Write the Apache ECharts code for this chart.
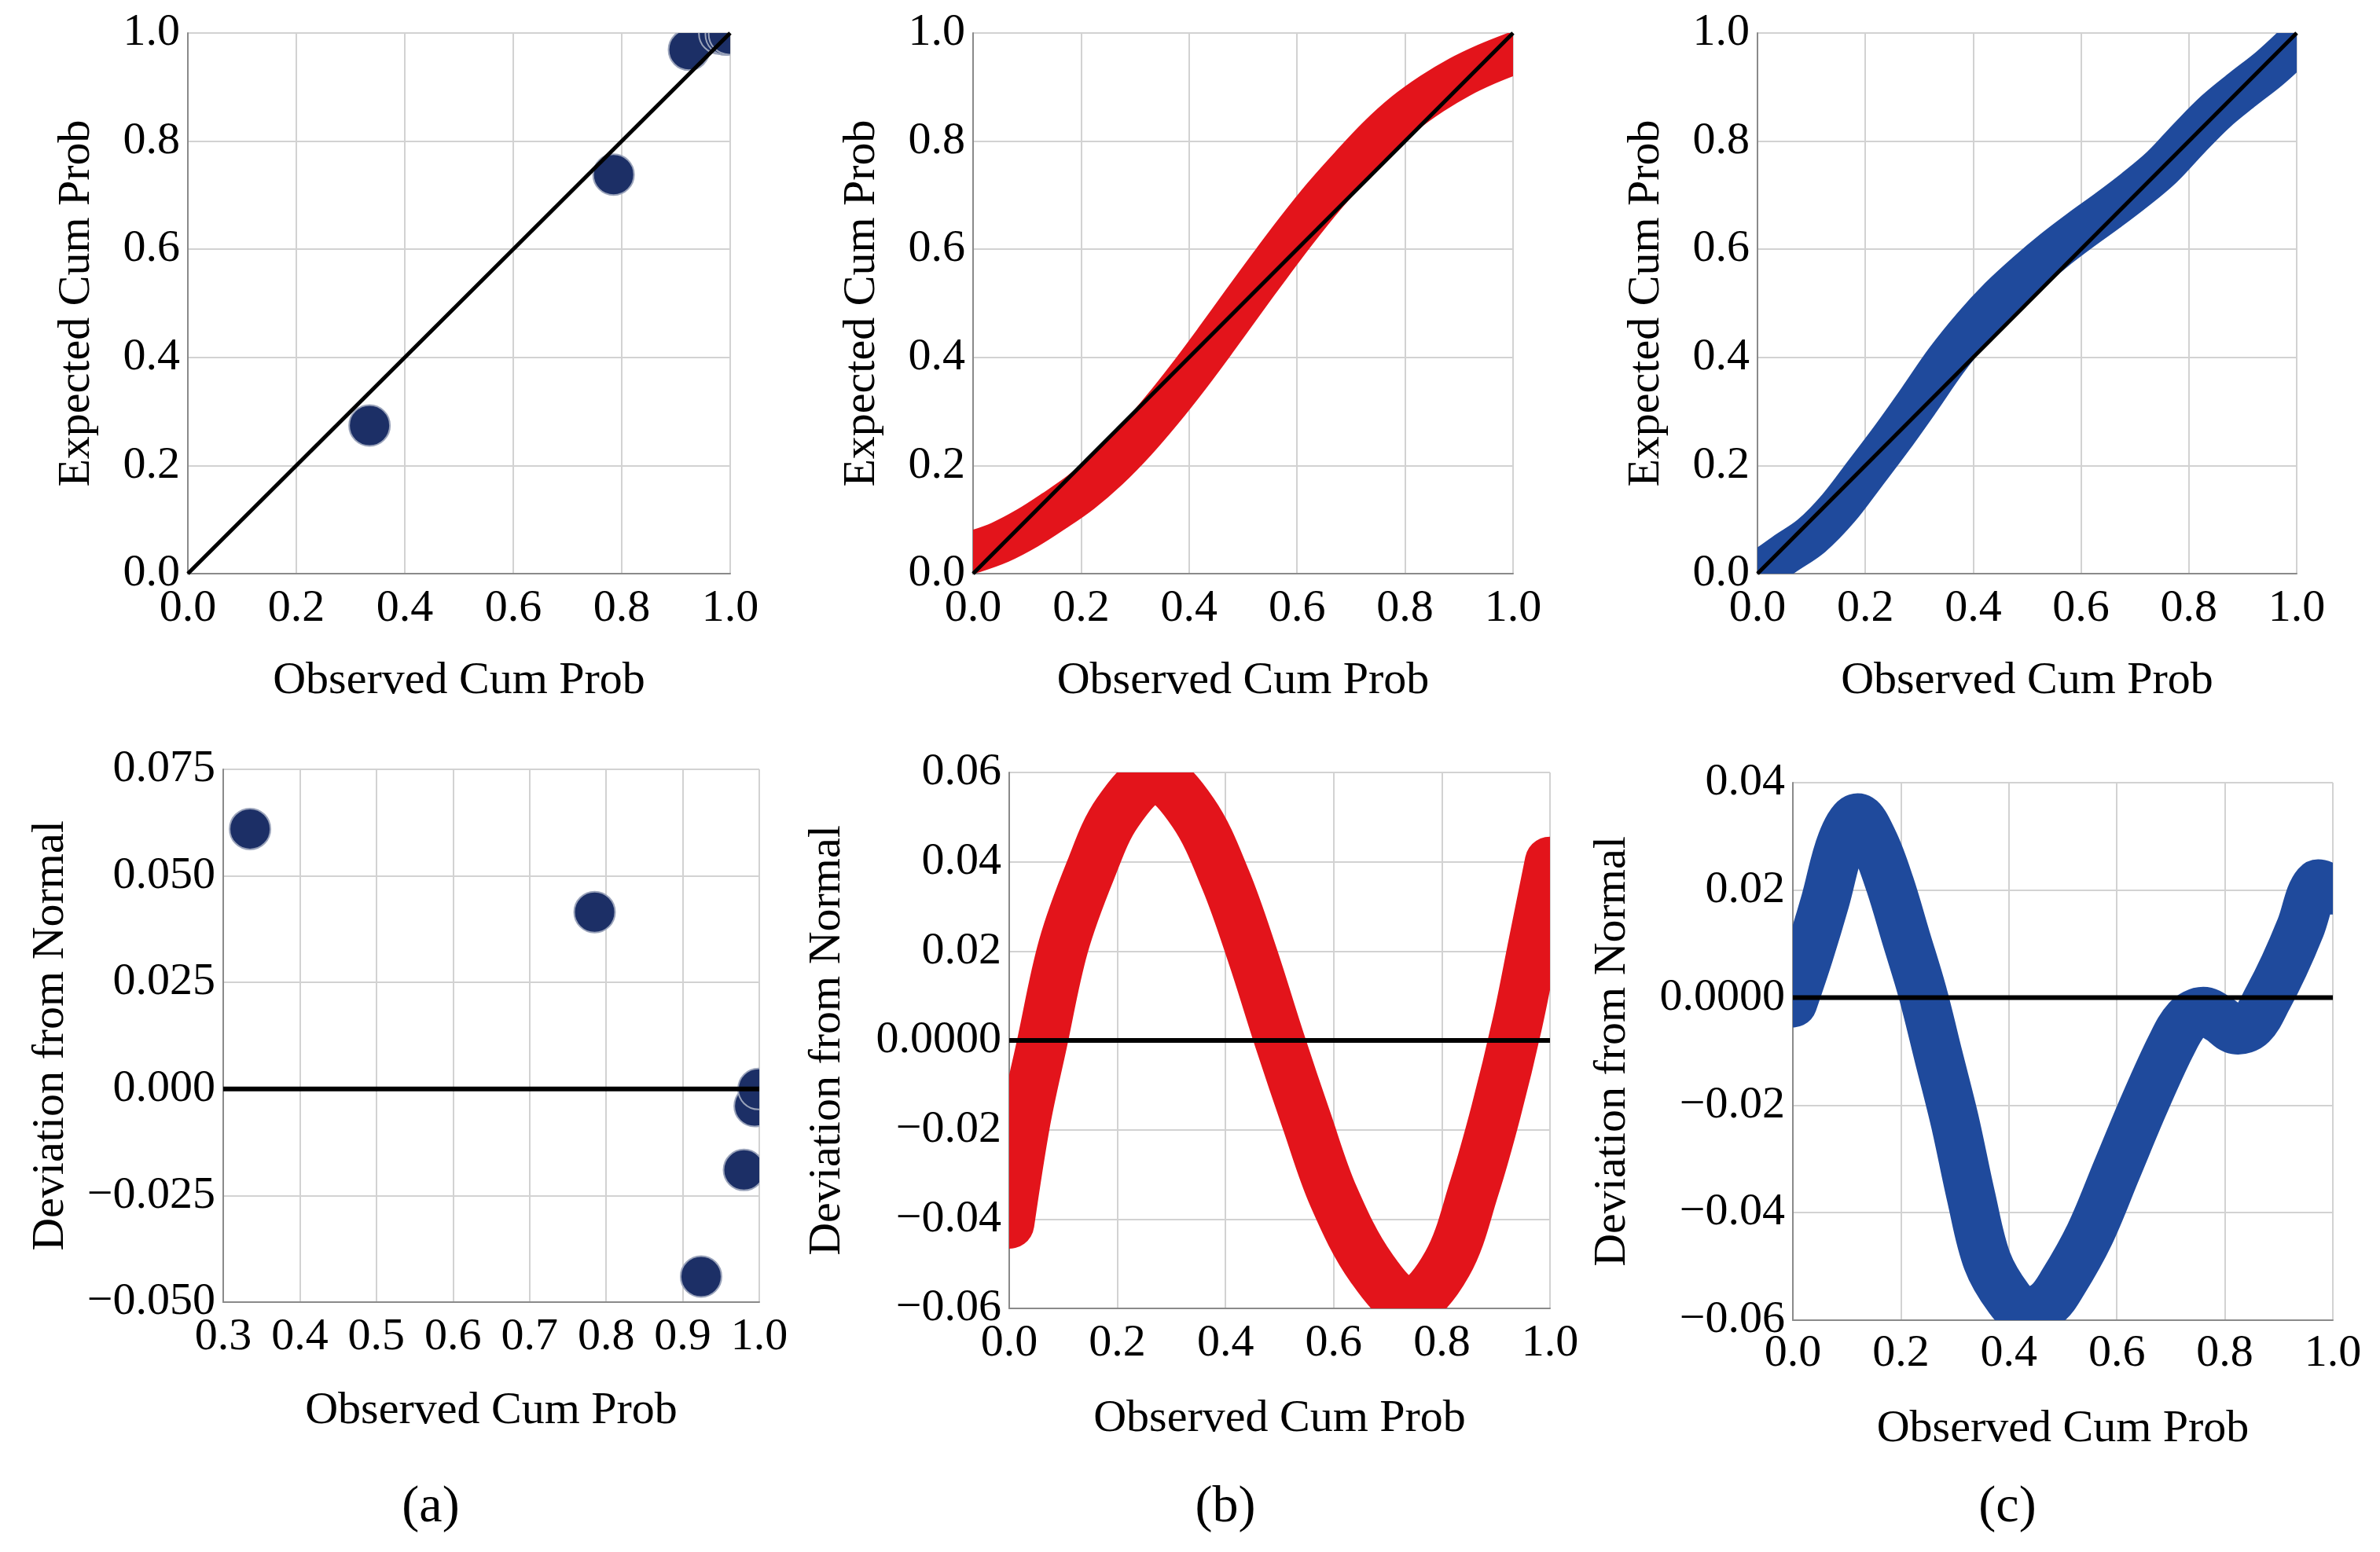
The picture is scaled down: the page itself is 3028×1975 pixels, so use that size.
<!DOCTYPE html>
<html>
<head>
<meta charset="utf-8">
<script src="https://cdn.jsdelivr.net/npm/echarts@6/dist/echarts.min.js"></script>
<style>
  html, body { margin: 0; padding: 0; background: #fff; }
  #chart { width: 3028px; height: 1975px; }
</style>
</head>
<body>
<div id="chart"></div>
<script>
// P-P plots (top) and detrended P-P plots (bottom)

// (a) few observations
const obsA = [0.335, 0.785, 0.924, 0.98, 0.992, 0.998];
const expA = [0.274, 0.738, 0.969, 0.999, 0.997, 0.998];
const devObsA = [0.335, 0.785, 0.924, 0.98, 0.994, 0.999];
const devA = [0.061, 0.0415, -0.044, -0.019, -0.004, 0.0];

// (b) red band
const obsB = [0, 0.05, 0.1, 0.15, 0.2, 0.25, 0.3, 0.35, 0.4, 0.45, 0.5, 0.55, 0.6, 0.65, 0.7, 0.75, 0.8, 0.85, 0.9, 0.95, 1.0];
const expB = [0.04, 0.058, 0.084, 0.116, 0.151, 0.194, 0.245, 0.303, 0.366, 0.433, 0.502, 0.57, 0.636, 0.698, 0.754, 0.807, 0.852, 0.888, 0.918, 0.942, 0.962];
const devObsB = [0, 0.03, 0.06, 0.1, 0.15, 0.2, 0.27, 0.34, 0.4, 0.45, 0.5, 0.55, 0.6, 0.67, 0.74, 0.81, 0.86, 0.9, 0.94, 0.97, 1.0];
const devB = [-0.041, -0.018, -0.001, 0.021, 0.038, 0.051, 0.0588, 0.051, 0.036, 0.019, 0.0, -0.018, -0.035, -0.051, -0.0588, -0.05, -0.033, -0.016, 0.004, 0.022, 0.040];

// (c) blue band
const obsC = [0, 0.05, 0.1, 0.15, 0.2, 0.25, 0.3, 0.35, 0.4, 0.45, 0.5, 0.55, 0.6, 0.65, 0.7, 0.75, 0.8, 0.85, 0.9, 0.95, 1.0];
const expC = [0.0, 0.036, 0.07, 0.121, 0.186, 0.252, 0.322, 0.394, 0.456, 0.51, 0.556, 0.598, 0.636, 0.672, 0.71, 0.752, 0.805, 0.855, 0.896, 0.935, 0.981];
const devObsC = [0, 0.03, 0.06, 0.09, 0.12, 0.15, 0.18, 0.21, 0.24, 0.27, 0.3, 0.33, 0.36, 0.4, 0.43, 0.47, 0.5, 0.55, 0.6, 0.65, 0.7, 0.73, 0.76, 0.79, 0.82, 0.85, 0.88, 0.91, 0.94, 0.97, 1.0];
const devC = [-0.001, 0.008, 0.018, 0.029, 0.0335, 0.029, 0.021, 0.011, 0.001, -0.011, -0.023, -0.037, -0.049, -0.056, -0.0585, -0.057, -0.053, -0.044, -0.032, -0.020, -0.009, -0.004, -0.0025, -0.004, -0.006, -0.005, 0.000, 0.006, 0.013, 0.021, 0.020];

// tick labels
const probTicks = ['0.0', '0.2', '0.4', '0.6', '0.8', '1.0'];
const obsTicksA = ['0.3', '0.4', '0.5', '0.6', '0.7', '0.8', '0.9', '1.0'];
const devTicksA = ['\u22120.050', '\u22120.025', '0.000', '0.025', '0.050', '0.075'];
const devTicksB = ['\u22120.06', '\u22120.04', '\u22120.02', '0.0000', '0.02', '0.04', '0.06'];
const devTicksC = ['\u22120.06', '\u22120.04', '\u22120.02', '0.0000', '0.02', '0.04'];
const panelNames = ['(a)', '(b)', '(c)'];

const FONT = "'Liberation Serif', 'Times New Roman', serif";
const NAVY = '#1c2f66';
const RED = '#e3141b';
const BLUE = '#1f4a9c';

const chart = echarts.init(document.getElementById('chart'), null, { renderer: 'canvas' });

function zip(xs, ys) {
  return xs.map((x, i) => [x, ys[i]]);
}

function xAx(grid, min, max, interval, labels, nameGap, margin) {
  return {
    type: 'value', gridIndex: grid, min: min, max: max, interval: interval,
    name: 'Observed Cum Prob', nameLocation: 'middle', nameGap: nameGap,
    nameTextStyle: { fontFamily: FONT, fontSize: 58, color: '#000' },
    axisLine: { show: true, onZero: false, lineStyle: { color: '#8a8a8a', width: 2 } },
    axisTick: { show: false },
    axisLabel: { fontFamily: FONT, fontSize: 58, color: '#000', margin: margin,
      formatter: (v, i) => labels[i] },
    splitLine: { show: true, lineStyle: { color: '#d2d2d2', width: 2 } }
  };
}

function yAx(grid, min, max, interval, labels, name, nameGap) {
  return {
    type: 'value', gridIndex: grid, min: min, max: max, interval: interval,
    name: name, nameLocation: 'middle', nameGap: nameGap,
    nameTextStyle: { fontFamily: FONT, fontSize: 58, color: '#000' },
    axisLine: { show: true, onZero: false, lineStyle: { color: '#8a8a8a', width: 2 } },
    axisTick: { show: false },
    axisLabel: { fontFamily: FONT, fontSize: 58, color: '#000', margin: 10,
      formatter: (v, i) => labels[i] },
    splitLine: { show: true, lineStyle: { color: '#d2d2d2', width: 2 } }
  };
}

// dots are clipped to the plot area like the original markers
function dots(idx, pts) {
  return {
    type: 'custom', xAxisIndex: idx, yAxisIndex: idx, clip: true,
    data: pts, encode: { x: 0, y: 1 },
    renderItem: function (params, api) {
      const p = api.coord([api.value(0), api.value(1)]);
      return {
        type: 'circle',
        shape: { cx: p[0], cy: p[1], r: 26 },
        style: { fill: NAVY, stroke: '#9aa3ba', lineWidth: 2 }
      };
    }
  };
}

// thick band: one smooth polyline through all points, cut exactly at the plot edge
// (a line series would widen its clip box by half the line width)
function band(idx, pts, color, width) {
  return {
    type: 'custom', xAxisIndex: idx, yAxisIndex: idx, clip: true,
    data: pts, encode: { x: 0, y: 1 },
    renderItem: function (params, api) {
      if (params.dataIndex !== 0) return null;
      return {
        type: 'polyline',
        shape: { points: pts.map(d => api.coord(d)), smooth: 0.35 },
        style: { fill: 'none', stroke: color, lineWidth: width, lineCap: 'round', lineJoin: 'round' }
      };
    }
  };
}

function ref(idx, pts, width) {
  return {
    type: 'line', xAxisIndex: idx, yAxisIndex: idx, data: pts,
    showSymbol: false, clip: true,
    lineStyle: { color: '#000', width: width }
  };
}

const option = {
  animation: false,
  backgroundColor: '#fff',
  title: panelNames.map((t, i) => ({
    text: t, left: [543, 1554, 2549][i], top: 1881, textAlign: 'center',
    textStyle: { fontFamily: FONT, fontSize: 66, fontWeight: 'normal', color: '#000' }
  })),
  grid: [
    { left: 239, top: 42, width: 690, height: 688 },
    { left: 1238, top: 42, width: 687, height: 688 },
    { left: 2236, top: 42, width: 686, height: 688 },
    { left: 284, top: 979, width: 682, height: 678 },
    { left: 1284, top: 983, width: 688, height: 682 },
    { left: 2281, top: 996, width: 687, height: 684 }
  ],
  xAxis: [
    xAx(0, 0, 1, 0.2, probTicks, 108, 16),
    xAx(1, 0, 1, 0.2, probTicks, 108, 16),
    xAx(2, 0, 1, 0.2, probTicks, 108, 16),
    xAx(3, 0.3, 1, 0.1, obsTicksA, 110, 16),
    xAx(4, 0, 1, 0.2, probTicks, 112, 16),
    xAx(5, 0, 1, 0.2, probTicks, 110, 14)
  ],
  yAxis: [
    yAx(0, 0, 1, 0.2, probTicks, 'Expected Cum Prob', 112),
    yAx(1, 0, 1, 0.2, probTicks, 'Expected Cum Prob', 112),
    yAx(2, 0, 1, 0.2, probTicks, 'Expected Cum Prob', 112),
    yAx(3, -0.05, 0.075, 0.025, devTicksA, 'Deviation from Normal', 190),
    yAx(4, -0.06, 0.06, 0.02, devTicksB, 'Deviation from Normal', 202),
    yAx(5, -0.06, 0.04, 0.02, devTicksC, 'Deviation from Normal', 200)
  ],
  series: [
    dots(0, zip(obsA, expA)),
    ref(0, [[0, 0], [1, 1]], 5),
    band(1, zip(obsB, expB), RED, 54),
    ref(1, [[0, 0], [1, 1]], 5),
    band(2, zip(obsC, expC), BLUE, 54),
    ref(2, [[0, 0], [1, 1]], 5),
    ref(3, [[0.3, 0], [1, 0]], 6),
    dots(3, zip(devObsA, devA)),
    band(4, zip(devObsB, devB), RED, 64),
    ref(4, [[0, 0], [1, 0]], 6),
    band(5, zip(devObsC, devC), BLUE, 62),
    ref(5, [[0, 0], [1, 0]], 6)
  ]
};

chart.setOption(option);
</script>
</body>
</html>
